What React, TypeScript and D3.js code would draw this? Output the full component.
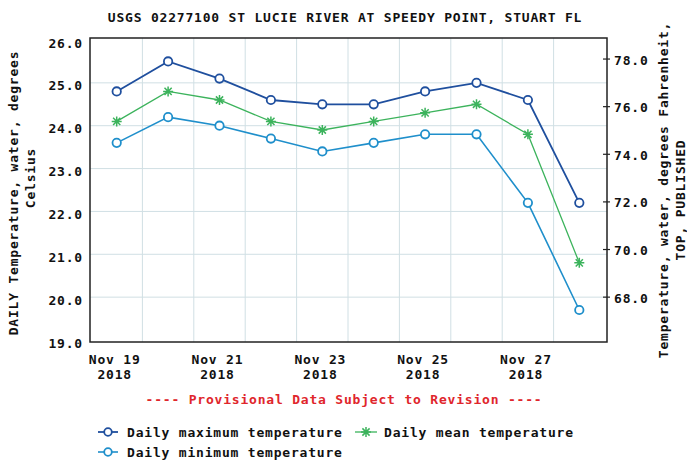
import React from 'react';
import * as d3 from 'd3';

const days = [19, 20, 21, 22, 23, 24, 25, 26, 27, 28];
const maxTemp = [24.8, 25.5, 25.1, 24.6, 24.5, 24.5, 24.8, 25.0, 24.6, 22.2];
const meanTemp = [24.1, 24.8, 24.6, 24.1, 23.9, 24.1, 24.3, 24.5, 23.8, 20.8];
const minTemp = [23.6, 24.2, 24.0, 23.7, 23.4, 23.6, 23.8, 23.8, 22.2, 19.7];
const leftTicks = [19, 20, 21, 22, 23, 24, 25, 26];
const rightTicks = [68, 70, 72, 74, 76, 78];
const labelDays = [19, 21, 23, 25, 27];

const W = 687, H = 460;
const L = 90, R = 607, T = 38, B = 342;
const font = { fontFamily: '"DejaVu Sans Mono", monospace', fontWeight: 'bold' as const, fontSize: 13, letterSpacing: '0.8px' };

const noon = (d: number) => new Date(2018, 10, d, 12);

function star(x: number, y: number, r: number) {
  const s = r * 0.72;
  return `M${x - r},${y}L${x + r},${y}M${x},${y - r}L${x},${y + r}` +
    `M${x - s},${y - s}L${x + s},${y + s}M${x - s},${y + s}L${x + s},${y - s}`;
}

export default function App() {
  const x = d3.scaleTime().domain([new Date(2018, 10, 19), new Date(2018, 10, 29)]).range([91, 605]);
  const y = d3.scaleLinear().domain([19, 26]).range([340, 40]);
  const yF = (f: number) => y((f - 32) * 5 / 9);
  const gridDays = d3.timeDay.range(new Date(2018, 10, 20), new Date(2018, 10, 29));

  const line = d3.line<number>().x((_, i) => x(noon(days[i]))).y((d) => y(d));

  const series = [
    { data: maxTemp, color: '#1f4f9e', width: 1.8, mark: 'circle' },
    { data: meanTemp, color: '#3cb35c', width: 1.3, mark: 'star' },
    { data: minTemp, color: '#1f8fcb', width: 1.6, mark: 'circle' },
  ];

  return (
    <svg width={W} height={H} style={{ position: 'absolute', left: 0, top: 0, background: '#fff' }}>
      <text x={345} y={22} textAnchor="middle" fill="#111" {...font}>
        USGS 02277100 ST LUCIE RIVER AT SPEEDY POINT, STUART FL
      </text>

      {/* grid */}
      {leftTicks.slice(1, -1).map((t) => (
        <line key={'h' + t} x1={L} x2={R} y1={y(t)} y2={y(t)} stroke="#d0dfe4" strokeWidth={1} />
      ))}
      {gridDays.map((d, i) => (
        <line key={'v' + i} x1={x(d)} x2={x(d)} y1={T} y2={B} stroke="#d0dfe4" strokeWidth={1} />
      ))}
      <rect x={L} y={T} width={R - L} height={B - T} fill="none" stroke="#222" strokeWidth={1.5} />

      {/* left axis */}
      {leftTicks.map((t) => (
        <text key={'l' + t} x={83} y={y(t) + 3} dy="0.35em" textAnchor="end" fill="#111" {...font}>
          {t.toFixed(1)}
        </text>
      ))}
      {/* right axis */}
      {rightTicks.map((t) => (
        <g key={'r' + t}>
          <line x1={R - 4} x2={R + 3} y1={yF(t)} y2={yF(t)} stroke="#222" strokeWidth={1.2} />
          <text x={614} y={yF(t) + 1} dy="0.35em" fill="#111" {...font}>{t.toFixed(1)}</text>
        </g>
      ))}
      {/* bottom labels */}
      {labelDays.map((d) => (
        <g key={'d' + d}>
          <text x={x(noon(d)) - 2} y={364} textAnchor="middle" fill="#111" {...font}>{`Nov ${d}`}</text>
          <text x={x(noon(d)) - 2} y={379} textAnchor="middle" fill="#111" {...font}>2018</text>
        </g>
      ))}

      {/* axis titles */}
      <text transform="translate(18,193) rotate(-90)" textAnchor="middle" fill="#111" {...font}>
        DAILY Temperature, water, degrees
      </text>
      <text transform="translate(35,178) rotate(-90)" textAnchor="middle" fill="#111" {...font}>
        Celsius
      </text>
      <text transform="translate(668,190) rotate(-90)" textAnchor="middle" fill="#111" {...font}>
        Temperature, water, degrees Fahrenheit,
      </text>
      <text transform="translate(685,200) rotate(-90)" textAnchor="middle" fill="#111" {...font}>
        TOP, PUBLISHED
      </text>

      {/* series */}
      {series.map((s, si) => (
        <g key={'s' + si}>
          <path d={line(s.data) || ''} fill="none" stroke={s.color} strokeWidth={s.width} />
          {s.data.map((v, i) =>
            s.mark === 'circle' ? (
              <circle key={i} cx={x(noon(days[i]))} cy={y(v)} r={4.2} fill="#fff" stroke={s.color} strokeWidth={1.8} />
            ) : (
              <path key={i} d={star(x(noon(days[i])), y(v), 5)} stroke={s.color} strokeWidth={1.5} fill="none" />
            )
          )}
        </g>
      ))}

      <text x={344} y={404} textAnchor="middle" fill="#e0262c" {...font}>
        ---- Provisional Data Subject to Revision ----
      </text>

      {/* legend */}
      <g>
        <line x1={98} x2={118} y1={432} y2={432} stroke="#1f4f9e" strokeWidth={1.8} />
        <circle cx={108} cy={432} r={3.8} fill="#fff" stroke="#1f4f9e" strokeWidth={1.8} />
        <text x={127} y={437} fill="#111" {...font}>Daily maximum temperature</text>

        <line x1={355} x2={377} y1={432} y2={432} stroke="#3cb35c" strokeWidth={1.3} />
        <path d={star(366, 432, 5)} stroke="#3cb35c" strokeWidth={1.5} fill="none" />
        <text x={384} y={437} fill="#111" {...font}>Daily mean temperature</text>

        <line x1={98} x2={118} y1={452} y2={452} stroke="#1f8fcb" strokeWidth={1.6} />
        <circle cx={108} cy={452} r={3.8} fill="#fff" stroke="#1f8fcb" strokeWidth={1.8} />
        <text x={127} y={457} fill="#111" {...font}>Daily minimum temperature</text>
      </g>
    </svg>
  );
}
